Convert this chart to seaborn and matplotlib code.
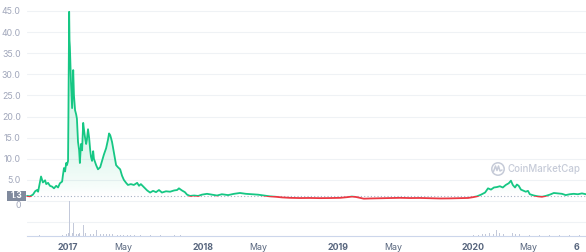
import numpy as np
import pandas as pd
import matplotlib
matplotlib.use("Agg")
import matplotlib.pyplot as plt
import matplotlib.dates as mdates
import matplotlib.transforms as mtransforms
from matplotlib.path import Path
from matplotlib.patches import Circle, Rectangle
from matplotlib.lines import Line2D
import seaborn as sns

# ---------------- data ----------------
price_dates = [
    "2016-09-12", "2016-09-20", "2016-09-28", "2016-10-04", "2016-10-09", "2016-10-12",
    "2016-10-17", "2016-10-20", "2016-10-23", "2016-10-25", "2016-10-31", "2016-11-03",
    "2016-11-08", "2016-11-13", "2016-11-19", "2016-11-24", "2016-11-30", "2016-12-05",
    "2016-12-10", "2016-12-16", "2016-12-18", "2016-12-21", "2016-12-24", "2016-12-27",
    "2016-12-29", "2017-01-01", "2017-01-02", "2017-01-04", "2017-01-05", "2017-01-06",
    "2017-01-09", "2017-01-12", "2017-01-15", "2017-01-17", "2017-01-20", "2017-01-23",
    "2017-01-25", "2017-01-28", "2017-01-31", "2017-02-02", "2017-02-05", "2017-02-08",
    "2017-02-11", "2017-02-13", "2017-02-16", "2017-02-19", "2017-02-21", "2017-02-24",
    "2017-02-27", "2017-03-02", "2017-03-04", "2017-03-07", "2017-03-10", "2017-03-12",
    "2017-03-18", "2017-03-23", "2017-03-29", "2017-04-03", "2017-04-08", "2017-04-14",
    "2017-04-19", "2017-04-22", "2017-04-25", "2017-04-27", "2017-04-30", "2017-05-03",
    "2017-05-05", "2017-05-08", "2017-05-11", "2017-05-16", "2017-05-22", "2017-05-27",
    "2017-06-01", "2017-06-07", "2017-06-12", "2017-06-20", "2017-06-28", "2017-07-07",
    "2017-07-12", "2017-07-17", "2017-07-25", "2017-08-03", "2017-08-11", "2017-08-19",
    "2017-08-27", "2017-09-04", "2017-09-12", "2017-09-23", "2017-10-04", "2017-10-15",
    "2017-10-23", "2017-10-28", "2017-11-05", "2017-11-13", "2017-11-19", "2017-11-27",
    "2017-12-08", "2017-12-19", "2017-12-29", "2018-01-12", "2018-01-25", "2018-02-08",
    "2018-02-21", "2018-03-10", "2018-03-26", "2018-04-11", "2018-04-27", "2018-05-14",
    "2018-05-30", "2018-06-15", "2018-07-01", "2018-07-17", "2018-08-03", "2018-08-24",
    "2018-09-20", "2018-10-17", "2018-11-13", "2018-12-10", "2019-01-07", "2019-01-25",
    "2019-02-08", "2019-02-19", "2019-03-02", "2019-03-12", "2019-03-29", "2019-04-25",
    "2019-05-22", "2019-06-18", "2019-07-15", "2019-08-11", "2019-09-07", "2019-10-04",
    "2019-10-31", "2019-11-27", "2019-12-19", "2020-01-01", "2020-01-12", "2020-01-23",
    "2020-02-03", "2020-02-11", "2020-02-19", "2020-02-27", "2020-03-06", "2020-03-14",
    "2020-03-22", "2020-03-30", "2020-04-07", "2020-04-13", "2020-04-18", "2020-04-24",
    "2020-04-29", "2020-05-04", "2020-05-10", "2020-05-15", "2020-05-23", "2020-05-29",
    "2020-06-03", "2020-06-14", "2020-06-25", "2020-07-06", "2020-07-16", "2020-07-27",
    "2020-08-07", "2020-08-18", "2020-08-29", "2020-09-08", "2020-09-19", "2020-09-30",
    "2020-10-11", "2020-10-22", "2020-11-02",
]
price_values = [
    1.2, 1.1, 1.5, 2.3, 2.6, 2.2,
    4.5, 5.8, 5.0, 4.4, 4.9, 4.0,
    4.3, 3.6, 3.4, 3.0, 3.6, 3.2,
    4.2, 4.6, 6.0, 7.8, 7.0, 9.0,
    8.5, 9.5, 20.0, 44.8, 38.0, 36.5,
    28.0, 22.0, 31.0, 25.0, 21.5, 20.5,
    19.5, 14.0, 12.0, 9.0, 13.5, 12.0,
    18.5, 17.0, 15.0, 13.5, 14.5, 17.0,
    15.0, 12.0, 10.5, 9.5, 11.8, 10.0,
    8.5, 7.5, 8.0, 9.5, 11.0, 12.5,
    14.5, 16.0, 15.6, 15.0, 14.0, 12.5,
    11.5, 10.0, 8.5, 8.0, 7.5, 6.0,
    5.0, 4.3, 3.8, 4.0, 3.8, 4.3,
    3.6, 4.0, 3.3, 2.5, 2.0, 2.4,
    2.1, 2.6, 2.0, 2.3, 2.2, 2.5,
    2.6, 3.0, 2.5, 2.1, 1.5, 1.2,
    1.3, 1.2, 1.5, 1.7, 1.5, 1.3,
    1.6, 1.4, 1.7, 1.9, 1.7, 1.6,
    1.5, 1.3, 1.1, 1.0, 0.85, 0.75,
    0.7, 0.72, 0.68, 0.7, 0.75, 0.9,
    1.05, 0.95, 0.75, 0.55, 0.6, 0.65,
    0.7, 0.75, 0.7, 0.72, 0.65, 0.6,
    0.62, 0.68, 0.72, 0.9, 1.1, 1.5,
    2.0, 3.0, 2.7, 3.2, 3.3, 3.5,
    3.2, 3.8, 4.2, 4.8, 3.8, 3.2,
    3.9, 3.6, 2.7, 2.5, 2.2, 2.4,
    1.6, 1.3, 1.1, 1.0, 1.2, 1.5,
    1.9, 1.8, 1.7, 1.4, 1.6, 1.7,
    1.6, 1.8, 1.6,
]

volume_dates = [
    "2016-10-17", "2016-11-13", "2016-12-18", "2016-12-27", "2017-01-01", "2017-01-04",
    "2017-01-06", "2017-01-09", "2017-01-12", "2017-01-15", "2017-01-17", "2017-01-23",
    "2017-01-28", "2017-02-02", "2017-02-11", "2017-02-13", "2017-02-16", "2017-02-24",
    "2017-03-02", "2017-03-10", "2017-03-20", "2017-03-29", "2017-04-06", "2017-04-14",
    "2017-04-22", "2017-04-30", "2017-05-08", "2017-05-16", "2017-05-24", "2017-06-01",
    "2017-06-10", "2017-06-18", "2017-07-01", "2017-07-15", "2017-08-11", "2017-09-07",
    "2017-10-17", "2017-10-31", "2018-03-01", "2018-06-01", "2018-10-01", "2019-02-10",
    "2019-06-01", "2019-10-01", "2020-01-04", "2020-01-15", "2020-01-26", "2020-02-05",
    "2020-02-16", "2020-02-27", "2020-03-06", "2020-03-14", "2020-03-25", "2020-04-05",
    "2020-04-16", "2020-04-26", "2020-05-07", "2020-05-21", "2020-06-03", "2020-06-30",
    "2020-07-27", "2020-08-23", "2020-09-19", "2020-10-16",
]
volume_values = [
    2, 1, 3, 5, 10, 100,
    20, 12, 8, 37, 10, 6,
    5, 8, 12, 31, 8, 6,
    5, 5, 17, 5, 6, 5,
    7, 6, 5, 4, 4, 3,
    3, 3, 2, 2, 1.5, 1.5,
    2, 2, 0.8, 0.8, 0.6, 1.0,
    0.6, 0.6, 3, 4, 5, 6,
    8, 7, 17, 8, 6, 9,
    10, 6, 5, 4, 3, 3,
    4, 3, 4, 3,
]

ytick_values = [0, 5, 10, 15, 20, 25, 30, 35, 40, 45]
ytick_labels = ["0", "5.0", "10.0", "15.0", "20.0", "25.0", "30.0", "35.0", "40.0", "45.0"]
xtick_dates = ["2017-01-01", "2017-05-31", "2018-01-01", "2018-05-31", "2019-01-01",
               "2019-05-31", "2020-01-01", "2020-05-31", "2020-10-06"]
xtick_labels = ["2017", "May", "2018", "May", "2019", "May", "2020", "May", "6"]
baseline = 1.3

# ---------------- style ----------------
sns.set_theme(style="white")
plt.rcParams["font.family"] = ["Inter", "DejaVu Sans"]

GREEN = "#16c784"
RED = "#ea3943"
GRID = "#eff2f5"
LABEL = "#a1a7bb"
XLABEL = "#58667e"

df = pd.DataFrame({"date": pd.to_datetime(price_dates), "price": price_values})
vdf = pd.DataFrame({"date": pd.to_datetime(volume_dates), "volume": volume_values})

W, H = 586, 252
fig = plt.figure(figsize=(W / 100, H / 100), dpi=100)
ax = fig.add_axes([27 / W, 51 / H, 559 / W, 201 / H])
axv = fig.add_axes([27 / W, 16 / H, 559 / W, 35 / H], sharex=ax)

xmin = mdates.date2num(pd.Timestamp("2016-09-12"))
xmax = mdates.date2num(pd.Timestamp("2020-11-02"))
ymax = 47.6

# gridlines
for v in ytick_values:
    ax.axhline(v, color=GRID, lw=0.8, zorder=0)

# gradient fill under the line (above baseline)
xs = mdates.date2num(df["date"])
fill = ax.fill_between(xs, df["price"], baseline, color="none", lw=0)
grad = np.zeros((256, 2, 4))
g = matplotlib.colors.to_rgb(GREEN)
grad[..., 0], grad[..., 1], grad[..., 2] = g
lev = np.linspace(baseline, ymax, 256)
grad[..., 3] = (np.clip((lev - baseline) / 14.0, 0, 1) ** 0.8 * 0.16)[:, None]
im = ax.imshow(grad, extent=[xmin, xmax, baseline, ymax], origin="lower",
               aspect="auto", zorder=1, interpolation="bilinear")
clip = Path.make_compound_path(*fill.get_paths())
im.set_clip_path(clip, transform=ax.transData)

# price line: green above baseline, red below
sns.lineplot(data=df, x="date", y="price", ax=ax, color=GREEN, lw=1.3, zorder=3)
sns.lineplot(data=df, x="date", y="price", ax=ax, color=RED, lw=1.3, zorder=3)
lines = ax.get_lines()
green_line, red_line = lines[-2], lines[-1]
up = Rectangle((xmin - 100, baseline), xmax - xmin + 200, 100, transform=ax.transData)
dn = Rectangle((xmin - 100, -10), xmax - xmin + 200, 10 + baseline, transform=ax.transData)
green_line.set_clip_path(up)
red_line.set_clip_path(dn)

# dotted baseline
ax.axhline(baseline, color="#a6b0c3", lw=0.8, ls=(0, (1, 2)), zorder=2)

ax.set_xlim(xmin, xmax)
ax.set_ylim(0, ymax)
ax.set_yticks(ytick_values)
ax.set_yticklabels(ytick_labels)
ax.tick_params(axis="y", length=0, pad=4.5, labelsize=6.3, labelcolor=LABEL)
ax.tick_params(axis="x", length=0, labelbottom=False)
ax.set_xlabel("")
ax.set_ylabel("")
for s in ax.spines.values():
    s.set_visible(False)
# nudge the "0" label just below the current-value box
zero_lab = ax.get_yticklabels()[0]
zero_lab.set_transform(zero_lab.get_transform() +
                       mtransforms.ScaledTranslation(0, -3.5 / 100, fig.dpi_scale_trans))

# volume panel
axv.bar(mdates.date2num(vdf["date"]), vdf["volume"], width=2.6, color="#c3c9da",
        lw=0, zorder=2)
axv.set_ylim(0, 100)
axv.axhline(40, color=GRID, lw=0.8, zorder=0)
axv.axhline(100, color=GRID, lw=0.8, zorder=0)
axv.set_yticks([])
for k in ["top", "left", "right"]:
    axv.spines[k].set_visible(False)
axv.spines["bottom"].set_color("#ccd6eb")
axv.spines["bottom"].set_linewidth(0.8)
axv.set_xticks(mdates.date2num(pd.to_datetime(xtick_dates)))
axv.set_xticklabels(xtick_labels)
axv.tick_params(axis="x", length=3, width=0.8, color="#ccd6eb", pad=2,
                labelsize=6.4, labelcolor=XLABEL)
for lab in axv.get_xticklabels():
    lab.set_fontweight("bold" if lab.get_text() not in ("May",) else "normal")
axv.set_xlim(xmin, xmax)
axv.set_xlabel("")

# current value marker box (fixed pixel size, centred on baseline)
ybox_px = ax.transData.transform((0, baseline))[1]
fig.add_artist(Rectangle((7 / W, (ybox_px - 5) / H), 19 / W, 10 / H,
                         transform=fig.transFigure, fc="#808a9d", ec="none", zorder=9))
fig.text(16.5 / W, ybox_px / H, "1.3", ha="center", va="center",
         fontsize=6.0, color="white", fontweight="bold", zorder=10)

# watermark
wm = "#c6cbd8"
fig.add_artist(Circle((4.98, 0.83), 0.062, transform=fig.dpi_scale_trans,
                      fill=False, ec=wm, lw=1.1))
fig.add_artist(Line2D([4.935, 4.955, 4.97, 4.985, 5.0, 5.02],
                      [0.805, 0.86, 0.815, 0.86, 0.81, 0.82],
                      transform=fig.dpi_scale_trans, color=wm, lw=1.1))
fig.text(508 / W, (H - 169) / H, "CoinMarketCap", ha="left", va="center",
         fontsize=7.0, color=wm, fontweight="medium")

fig.savefig("out.png", dpi=100)
